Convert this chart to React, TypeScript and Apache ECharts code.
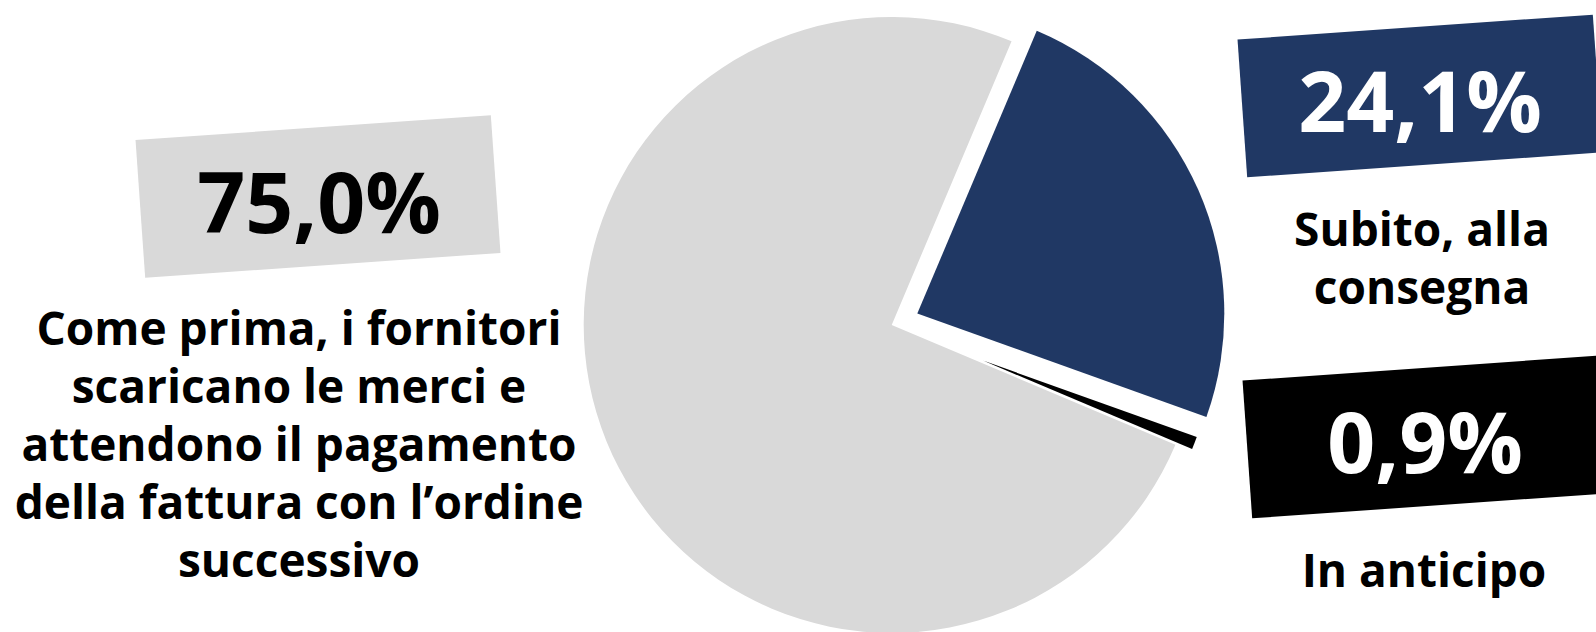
import React, { useEffect, useRef } from "react";
import * as echarts from "echarts";

// ---- data ----
const categories = [
  "Subito, alla consegna",
  "In anticipo",
  "Come prima, i fornitori scaricano le merci e attendono il pagamento della fattura con l\u2019ordine successivo",
];
const values = [24.1, 0.9, 75.0];
const sliceColors = ["#203864", "#000000", "#D9D9D9"];
const descLabels = [
  "Subito, alla\nconsegna",
  "In anticipo",
  "Come prima, i fornitori\nscaricano le merci e\nattendono il pagamento\ndella fattura con l\u2019ordine\nsuccessivo",
];

const fmt = (v: number) => v.toFixed(1).replace(".", ",") + "%";

const FONT = "'Open Sans', 'DejaVu Sans', sans-serif";
const ROT = (4 * Math.PI) / 180;

export default function App() {
  const ref = useRef<HTMLDivElement>(null);

  useEffect(() => {
    if (!ref.current) return;
    const chart = echarts.init(ref.current, undefined, { renderer: "svg" });

    // one pie series per visible slice, so each slice can be placed on its own (exploded)
    const layouts = [
      { center: [917.3, 313.6], radius: 307 }, // navy
      { center: [983, 360.6], radius: 227 }, // black
      { center: [891.7, 325], radius: 308 }, // gray
    ];
    const drawOrder = [2, 0, 1];
    const series = drawOrder.map((vis) => ({
      type: "pie" as const,
      center: layouts[vis].center,
      radius: layouts[vis].radius,
      startAngle: 67.1,
      clockwise: true,
      silent: true,
      label: { show: false },
      labelLine: { show: false },
      emphasis: { disabled: true },
      data: values.map((v, i) => ({
        name: categories[i],
        value: v,
        itemStyle: {
          color: i === vis ? sliceColors[i] : "rgba(0,0,0,0)",
          borderWidth: 0,
        },
      })),
    }));

    const boxes = [
      { cx: 1420, cy: 96, tx: 1420, ty: 99, fill: sliceColors[0], txtColor: "#ffffff" },
      { cx: 1425, cy: 437, tx: 1425, ty: 440, fill: sliceColors[1], txtColor: "#ffffff" },
      { cx: 318, cy: 196.5, tx: 319, ty: 200, fill: sliceColors[2], txtColor: "#000000" },
    ];
    const descPos = [
      { x: 1422, y: 257 },
      { x: 1424, y: 569 },
      { x: 299, y: 443 },
    ];

    const graphics: any[] = [];
    boxes.forEach((b, i) => {
      graphics.push({
        type: "rect",
        x: b.cx,
        y: b.cy,
        rotation: ROT,
        shape: { x: -178, y: -69, width: 356, height: 138 },
        style: { fill: b.fill },
        silent: true,
      });
      graphics.push({
        type: "text",
        x: b.tx,
        y: b.ty,
        style: {
          text: fmt(values[i]),
          fill: b.txtColor,
          font: `bold 84px ${FONT}`,
          align: "center",
          verticalAlign: "middle",
        },
        silent: true,
      });
    });
    descLabels.forEach((t, i) => {
      graphics.push({
        type: "text",
        x: descPos[i].x,
        y: descPos[i].y,
        style: {
          text: t,
          fill: "#000000",
          font: `bold 46px ${FONT}`,
          lineHeight: 58,
          align: "center",
          verticalAlign: "middle",
        },
        silent: true,
      });
    });

    chart.setOption({
      animation: false,
      backgroundColor: "#ffffff",
      series,
      graphic: { elements: graphics },
    });

    return () => chart.dispose();
  }, []);

  return (
    <div
      ref={ref}
      style={{ position: "fixed", left: 0, top: 0, width: 1596, height: 632 }}
    />
  );
}
